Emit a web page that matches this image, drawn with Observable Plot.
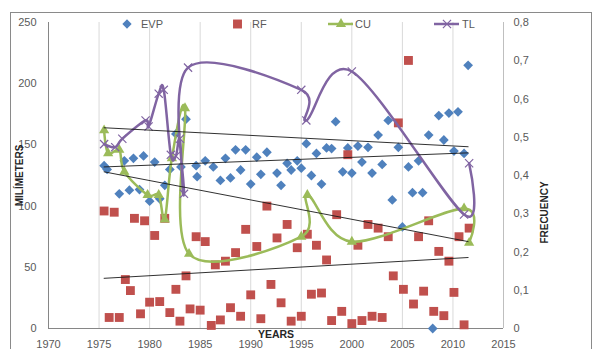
<!DOCTYPE html>
<html><head><meta charset="utf-8">
<script src="https://cdn.jsdelivr.net/npm/d3@7"></script>
<script src="https://cdn.jsdelivr.net/npm/@observablehq/plot@0.6"></script>
<style>
html,body{margin:0;padding:0;background:#fff;overflow:hidden}
#wrap{position:relative;width:592px;height:349px;overflow:hidden;font-family:"Liberation Sans",Arial,sans-serif}
#border{position:absolute;left:10px;top:12px;width:582px;height:400px;border:1px solid #8a8a8a;box-sizing:border-box}
#chart,#legend{position:absolute;left:0;top:0}
</style></head>
<body><div id="wrap"><div id="border"></div><div id="chart"></div><svg id="legend" width="592" height="349"></svg></div>
<script>
// ---- axes / ticks ----
const X_TICKS = [1970, 1975, 1980, 1985, 1990, 1995, 2000, 2005, 2010, 2015];
const Y_TICKS = [0, 50, 100, 150, 200, 250];
const FREQ_TICKS = [0, 0.1, 0.2, 0.3, 0.4, 0.5, 0.6, 0.7, 0.8];
const MM_PER_FREQ = 250 / 0.8; // right axis 0..0.8 aligned with left axis 0..250

// ---- EVP (mm) ----
const EVP_YEARS = [1975.5,1975.8,1977.0,1977.5,1978.0,1978.4,1979.0,1979.4,1980.0,1980.5,1981.0,1981.5,1982.0,1982.6,1983.1,1983.6,1984.6,1984.7,1985.5,1986.3,1987.0,1987.5,1988.0,1988.5,1989.0,1989.5,1990.0,1990.6,1991.0,1991.6,1992.6,1993.0,1993.6,1994.0,1994.6,1995.0,1995.5,1996.0,1996.5,1997.0,1997.5,1998.0,1998.4,1999.1,1999.6,2000.0,2000.6,2001.0,2001.6,2002.0,2002.6,2003.0,2003.6,2004.0,2004.6,2005.0,2005.6,2006.0,2006.6,2007.0,2007.6,2008.0,2008.6,2009.1,2009.6,2010.1,2010.5,2011.1,2011.5];
const EVP_MM = [133,130,110,137,113,139,113.5,141,104,136,106,117,130,159,132,171,133,124,137,132,121,139,123,146,129.5,146,118,140,126,144,127,117,135,129.5,137,131,151,125,143,118,147.5,147,169,128,147.5,127,149,136,148,127,158,134,170,105,148,83,132,111,137,111,158,0,174,154,176,145,177,143,215];

// ---- RF (mm) ----
const RF_YEARS = [1975.5,1976.5,1978.5,1979.5,1980.5,1981.5,1984.6,1985.5,1986.5,1987.5,1988.5,1989.5,1990.6,1991.6,1992.6,1993.6,1994.6,1995.6,1996.5,1997.5,1998.5,1999.6,2000.6,2001.6,2002.6,2003.6,2004.6,2005.6,2006.6,2007.6,2008.6,2009.6,2010.6,2011.6,
  1976.0,1977.0,1977.6,1978.1,1979.1,1980.0,1981.0,1982.0,1982.6,1983.0,1983.6,1984.0,1985.0,1986.1,1987.0,1988.0,1989.0,1990.0,1991.0,1992.0,1993.0,1994.0,1995.0,1996.0,1997.0,1998.0,1999.0,2000.0,2001.0,2002.0,2003.0,2004.1,2005.1,2006.1,2007.1,2008.1,2009.1,2010.1,2011.1];
const RF_MM = [96,95,90,88,76,90,75,71,52,55,62,81,67,100,74,85,66,77,68,56,93,142,68,85,82,75,168,219,75,88,63,55,75,82,
  9,9,40,31,12,21.5,22,13,32,6,43,16,15,2.5,7,17,10,27.5,8,36,21,6,10,28,29,6.5,14,4,6.5,10,9,43,32,20,30.5,14,10.5,29.5,3];

// ---- CU (frequency) ----
const CU_YEARS = [1975.5,1975.9,1977.0,1977.5,1979.8,1980.9,1981.5,1982.2,1983.5,1983.9,1995.0,1995.6,2000.0,2011.1,2011.6];
const CU_FREQ  = [0.518,0.458,0.467,0.410,0.349,0.349,0.285,0.445,0.576,0.195,0.240,0.349,0.227,0.314,0.224];

// ---- TL (frequency) ----
const TL_YEARS = [1975.5,1976.6,1977.3,1979.6,1979.9,1980.9,1981.4,1982.1,1982.6,1983.0,1983.4,1983.8,1995.0,1995.5,2000.0,2011.1,2011.6];
const TL_FREQ  = [0.482,0.474,0.496,0.544,0.528,0.614,0.624,0.454,0.451,0.496,0.352,0.682,0.624,0.544,0.672,0.298,0.432];

// ---- linear trend lines (read in left-axis units) ----
const TREND_NAMES = ["TL", "EVP", "CU", "RF"];
const TREND_X = [1975.5, 2011.5];
const TREND_START = [164, 132, 128, 41];
const TREND_END = [148.5, 143.5, 71, 58];

const COLORS = {EVP: "#4F81BD", RF: "#C0504D", CU: "#9BBB59", TL: "#8064A2"};
const FONT = '"Liberation Sans", Arial, sans-serif';

const evp = EVP_YEARS.map((x, i) => ({x, y: EVP_MM[i]}));
const rf = RF_YEARS.map((x, i) => ({x, y: RF_MM[i]}));
const cu = CU_YEARS.map((x, i) => ({x, f: CU_FREQ[i]}));
const tl = TL_YEARS.map((x, i) => ({x, f: TL_FREQ[i]}));
const trends = TREND_NAMES.flatMap((s, i) => [
  {s, x: TREND_X[0], y: TREND_START[i]},
  {s, x: TREND_X[1], y: TREND_END[i]}
]);
const fy = d => d.f * MM_PER_FREQ;
const fmtFreq = v => { const f = v / MM_PER_FREQ; return f < 1e-9 ? "0" : d3.format(".1f")(f).replace(".", ","); };

const chart = Plot.plot({
  width: 592, height: 349,
  marginLeft: 48, marginRight: 89, marginTop: 22, marginBottom: 21,
  style: {fontFamily: FONT, fontSize: "11px", color: "#595959", background: "transparent", overflow: "visible"},
  x: {domain: [1970, 2015]},
  y: {domain: [0, 250]},
  marks: [
    Plot.ruleX(X_TICKS.slice(1, -1), {stroke: "#d9d9d9"}),
    Plot.ruleX([2015], {stroke: "#bfbfbf"}),
    Plot.ruleX([1970], {stroke: "#868686"}),
    Plot.ruleY([0], {stroke: "#868686"}),
    Plot.axisX({ticks: X_TICKS, tickSize: 0, tickPadding: 12, tickFormat: d => String(d), label: null}),
    Plot.axisY({ticks: Y_TICKS, tickSize: 0, tickPadding: 12, label: null}),
    Plot.axisY({anchor: "right", ticks: FREQ_TICKS.map(f => f * MM_PER_FREQ), tickFormat: fmtFreq, tickSize: 0, tickPadding: 10, label: null}),
    Plot.dot(evp, {x: "x", y: "y", symbol: "diamond2", r: 4.4, fill: COLORS.EVP, stroke: "none"}),
    Plot.dot(rf, {x: "x", y: "y", symbol: "square", r: 5, fill: COLORS.RF, stroke: "none"}),
    Plot.line(cu, {x: "x", y: fy, curve: "cardinal", stroke: COLORS.CU, strokeWidth: 2.5}),
    Plot.dot(cu, {x: "x", y: fy, symbol: "triangle", r: 3.8, fill: COLORS.CU, stroke: "none"}),
    Plot.line(tl, {x: "x", y: fy, curve: "cardinal", stroke: COLORS.TL, strokeWidth: 2.5}),
    Plot.dot(tl, {x: "x", y: fy, symbol: "times", r: 3.8, stroke: COLORS.TL, strokeWidth: 1.2}),
    Plot.line(trends, {x: "x", y: "y", z: "s", stroke: "#1a1a1a", strokeWidth: 0.9}),
    Plot.text(["YEARS"], {text: d => d, frameAnchor: "bottom", dy: 9, textAnchor: "middle", fontWeight: "bold", fontSize: 10.5, fill: "#262626"}),
    Plot.text(["MILÍMETERS"], {text: d => d, frameAnchor: "left", dx: -29, dy: 0, rotate: -90, textAnchor: "middle", fontWeight: "bold", fontSize: 10, fill: "#262626"}),
    Plot.text(["FRECUENCY"], {text: d => d, frameAnchor: "right", dx: 41, dy: 37, rotate: -90, textAnchor: "middle", fontWeight: "bold", fontSize: 10, fill: "#262626"})
  ]
});
document.getElementById("chart").appendChild(chart);

// ---- legend (overlay) ----
const LEGEND = [
  {key: "EVP", sx: 127, tx: 141},
  {key: "RF", sx: 237.5, tx: 252},
  {key: "CU", sx: 341, tx: 355, line: [328, 353]},
  {key: "TL", sx: 447, tx: 462, line: [434, 459]}
];
const LY = 24;
const leg = d3.select("#legend").style("pointer-events", "none");
for (const it of LEGEND) {
  const c = COLORS[it.key];
  if (it.line) leg.append("line").attr("x1", it.line[0]).attr("x2", it.line[1]).attr("y1", LY).attr("y2", LY).attr("stroke", c).attr("stroke-width", 2.5);
  const g = leg.append("g").attr("transform", `translate(${it.sx},${LY})`);
  if (it.key === "EVP") g.append("path").attr("d", d3.symbol(d3.symbolDiamond2, 55)()).attr("fill", c);
  if (it.key === "RF") g.append("path").attr("d", d3.symbol(d3.symbolSquare, 80)()).attr("fill", c);
  if (it.key === "CU") g.append("path").attr("d", d3.symbol(d3.symbolTriangle, 45)()).attr("fill", c);
  if (it.key === "TL") g.append("path").attr("d", d3.symbol(d3.symbolTimes, 45)()).attr("fill", "none").attr("stroke", c).attr("stroke-width", 1.2);
  leg.append("text").attr("x", it.tx).attr("y", LY).attr("dy", "0.35em").attr("font-family", FONT).attr("font-size", 11).attr("fill", "#595959").text(it.key);
}
</script></body></html>
